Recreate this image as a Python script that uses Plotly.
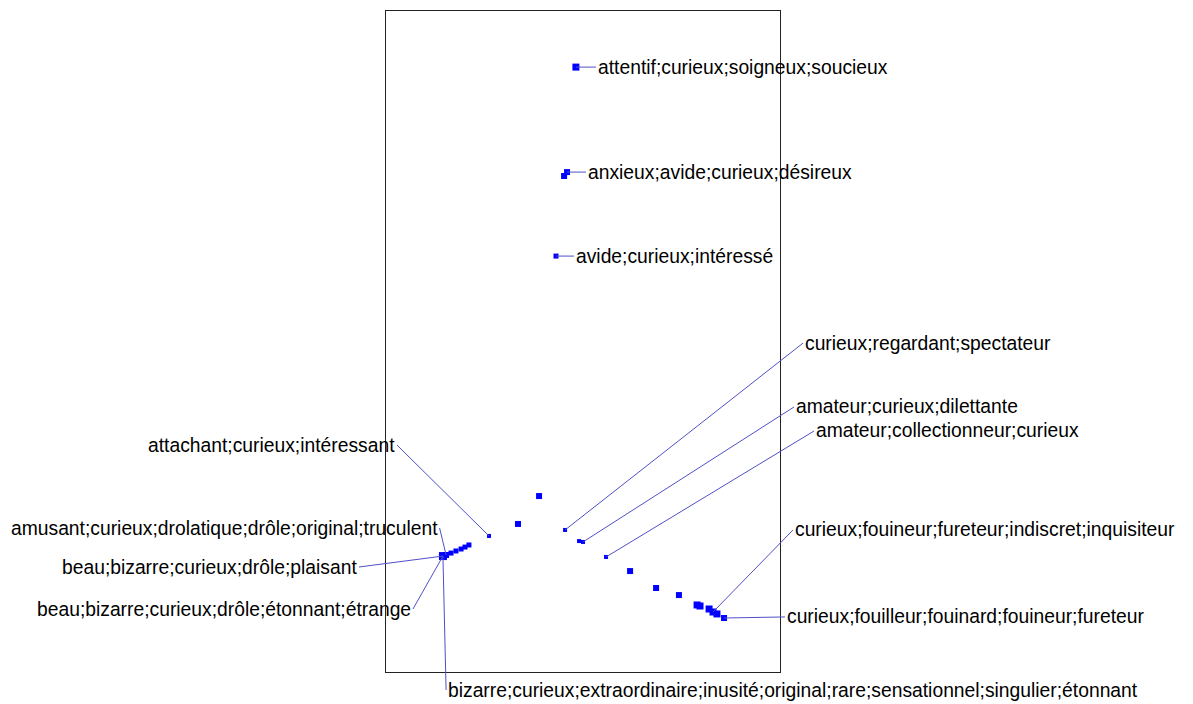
import plotly.graph_objects as go

# Point coordinates (arbitrary map units) and marker sizes
pt_x = [-0.036, -0.096, -0.081, -0.137, -0.223, -0.330, -0.477, -0.091, -0.020, 0.000,
        0.117, 0.239, 0.371, 0.487, 0.579, 0.594, 0.640, 0.660, 0.680, 0.716,
        -0.711, -0.695, -0.670, -0.645, -0.619, -0.599, -0.579]
pt_y = [3.553, 2.827, 2.853, 2.293, 0.693, 0.507, 0.427, 0.467, 0.393, 0.387,
        0.287, 0.193, 0.080, 0.033, -0.033, -0.040, -0.060, -0.080, -0.093, -0.120,
        0.293, 0.300, 0.313, 0.327, 0.340, 0.353, 0.367]
pt_size = [7, 6, 6, 5, 6, 6, 4, 4, 4, 4,
           4, 6, 6, 6, 7, 7, 7, 7, 7, 6,
           8, 6, 5, 5, 5, 5, 5]

# Labels: text, linked point index, label anchor position, side
lab_text = [
    "attentif;curieux;soigneux;soucieux",
    "anxieux;avide;curieux;désireux",
    "avide;curieux;intéressé",
    "curieux;regardant;spectateur",
    "amateur;curieux;dilettante",
    "amateur;collectionneur;curieux",
    "curieux;fouineur;fureteur;indiscret;inquisiteur",
    "curieux;fouilleur;fouinard;fouineur;fureteur",
    "attachant;curieux;intéressant",
    "amusant;curieux;drolatique;drôle;original;truculent",
    "beau;bizarre;curieux;drôle;plaisant",
    "beau;bizarre;curieux;drôle;étonnant;étrange",
    "bizarre;curieux;extraordinaire;inusité;original;rare;sensationnel;singulier;étonnant",
]
lab_point = [0, 2, 3, 7, 9, 10, 17, 19, 6, 21, 20, 20, 20]
lab_x = [0.066, 0.015, -0.046, 1.117, 1.071, 1.173, 1.066, 1.025, -0.944, -0.728, -1.137, -0.863, -0.695]
lab_y = [3.553, 2.853, 2.293, 1.713, 1.287, 1.127, 0.467, -0.113, 1.033, 0.480, 0.220, -0.060, -0.600]
lab_side = ["left", "left", "left", "left", "left", "left", "left", "left",
            "right", "right", "right", "right", "left"]

fig = go.Figure()
fig.add_trace(go.Scatter(
    x=pt_x, y=pt_y, mode="markers",
    marker=dict(symbol="square", size=pt_size, color="rgb(0,0,255)", opacity=1,
                line=dict(width=0)),
    hoverinfo="skip", showlegend=False, cliponaxis=False,
))

annotations = []
for t, pi, lx, ly, side in zip(lab_text, lab_point, lab_x, lab_y, lab_side):
    annotations.append(dict(
        x=pt_x[pi], y=pt_y[pi], xref="x", yref="y",
        ax=lx, ay=ly, axref="x", ayref="y",
        text=t, showarrow=True, arrowhead=0, arrowwidth=1,
        arrowcolor="rgb(80,80,200)", standoff=0, startstandoff=0,
        xanchor=side, yanchor="middle",
        font=dict(family="Arial, Liberation Sans, sans-serif", size=19.3, color="black"),
        borderpad=1,
    ))

fig.update_layout(
    width=1193, height=704,
    margin=dict(l=378, r=421, t=3, b=40),
    paper_bgcolor="white", plot_bgcolor="white",
    annotations=annotations,
    xaxis=dict(range=[-1.0, 1.0], showgrid=False, zeroline=False, showticklabels=False,
               ticks="", showline=True, mirror=True, linecolor="#222", linewidth=1),
    yaxis=dict(range=[-0.48, 3.927], showgrid=False, zeroline=False, showticklabels=False,
               ticks="", showline=True, mirror=True, linecolor="#222", linewidth=1),
)

fig.write_html("out.html")
